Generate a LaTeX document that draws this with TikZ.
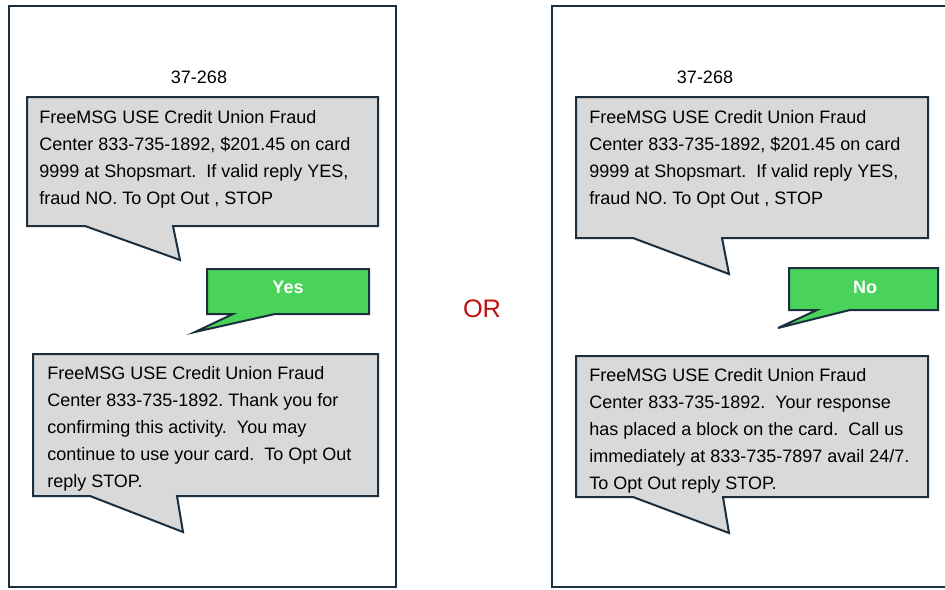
\documentclass[tikz,border=0pt]{standalone}
\usepackage{fontspec}
\setmainfont{Liberation Sans}
\usepackage{tikz}
\frenchspacing

\definecolor{frameblue}{RGB}{28,47,62}
\definecolor{bubblegray}{RGB}{217,217,217}
\definecolor{replygreen}{RGB}{74,211,90}
\definecolor{orred}{RGB}{192,16,16}

\tikzset{
  phone/.style={draw=frameblue,line width=1.5pt},
  bubble/.style={draw=frameblue,fill=bubblegray,line width=1.5pt,line join=miter},
  reply/.style={draw=frameblue,fill=replygreen,line width=1.5pt,line join=miter},
  msgtext/.style={anchor=north west,inner sep=0pt,align=left,font=\fontsize{13.5pt}{20.25pt}\selectfont},
  replytext/.style={anchor=base,inner sep=0pt,text=white,font=\fontsize{13.5pt}{16pt}\selectfont\bfseries},
  codetext/.style={anchor=base,inner sep=0pt,font=\fontsize{13.5pt}{16pt}\selectfont}
}

\begin{document}
\begin{tikzpicture}[x=0.75pt,y=-0.75pt]
            \useasboundingbox (0,0) rectangle (945,589);
            \fill[white] (0,0) rectangle (945,589);
            \draw[phone] (9,6) rectangle (396,587);
            \draw[phone] (552,6) rectangle (960,587);
            \node[codetext] (codeL) at (199,83) {37-268};
            \node[codetext] (codeR) at (705,83) {37-268};
            \node[anchor=base,inner sep=0pt,text=orred,font=\fontsize{19pt}{22pt}\selectfont] (or) at (482,317) {OR};
            \draw[bubble] (27,97) -- (378,97) -- (378,226) -- (173,226) -- (180,260) -- (85,226) -- (27,226) -- cycle;
            \node[msgtext] (askL) at (39,110) {FreeMSG USE Credit Union Fraud\\Center 833-735-1892, \$201.45 on card\\9999 at Shopsmart.~ If valid reply YES,\\fraud NO. To Opt Out , STOP};
            \draw[reply] (207,269) -- (369,269) -- (369,314) -- (275,314) -- (195,332) -- (233,314) -- (207,314) -- cycle;
            \node[replytext] (yes) at (288,293) {Yes};
            \draw[bubble] (33,354) -- (378,354) -- (378,496) -- (177,496) -- (183,532) -- (90,496) -- (33,496) -- cycle;
            \node[msgtext] (okL) at (47,366) {FreeMSG USE Credit Union Fraud\\Center 833-735-1892. Thank you for\\confirming this activity.~ You may\\continue to use your card.~ To Opt Out\\reply STOP.};
            \draw[bubble] (576,97) -- (928,97) -- (928,238) -- (722,238) -- (729,274) -- (633,238) -- (576,238) -- cycle;
            \node[msgtext] (askR) at (589,110) {FreeMSG USE Credit Union Fraud\\Center 833-735-1892, \$201.45 on card\\9999 at Shopsmart.~ If valid reply YES,\\fraud NO. To Opt Out , STOP};
            \draw[reply] (789,268) -- (938,268) -- (938,310) -- (850,310) -- (778,328) -- (817,310) -- (789,310) -- cycle;
            \node[replytext] (no) at (865,293) {No};
            \draw[bubble] (576,356) -- (928,356) -- (928,497) -- (723,497) -- (729,533) -- (633,497) -- (576,497) -- cycle;
            \node[msgtext] (blockR) at (589,368) {FreeMSG USE Credit Union Fraud\\Center 833-735-1892.~ Your response\\has placed a block on the card.~ Call us\\immediately at 833-735-7897 avail 24/7.\\To Opt Out reply STOP.};
        \end{tikzpicture}
\end{document}
